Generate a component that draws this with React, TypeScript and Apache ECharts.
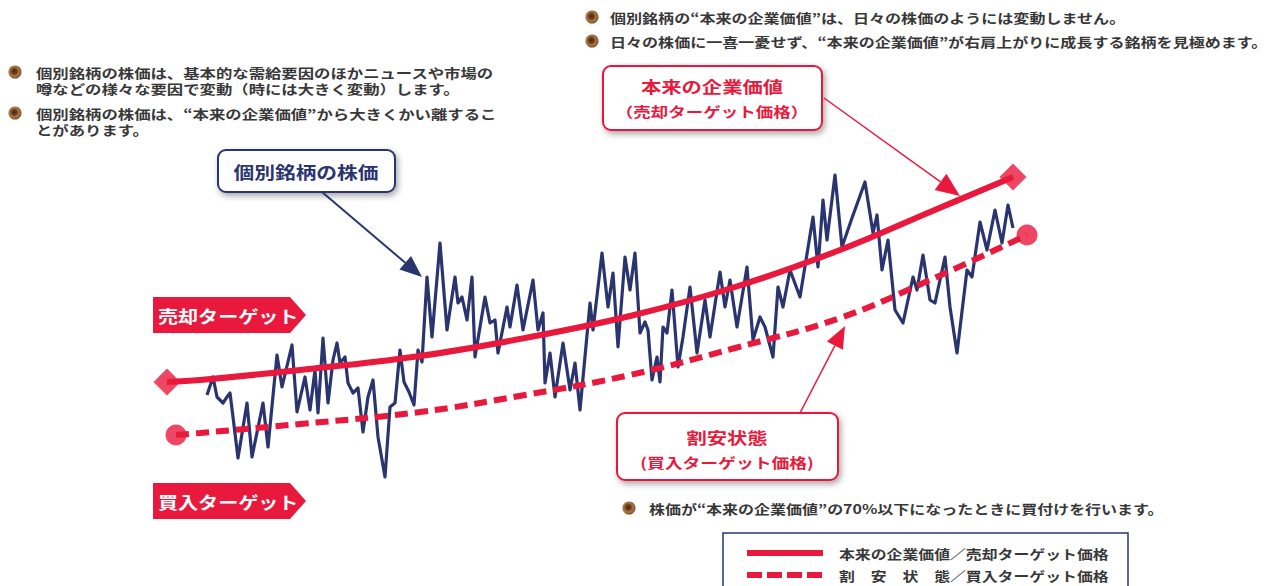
import React, { useEffect, useRef } from "react";
import * as echarts from "echarts";

// ---- data (days, price units) ----
const stockDays = [57, 63, 67, 73, 77, 80, 83, 88, 97, 102, 113, 118, 127, 132, 142, 147, 155, 160, 165, 168, 173, 178, 183, 187, 190, 195, 198, 203, 208, 213, 218, 223, 228, 235, 240, 245, 250, 254, 259, 264, 268, 272, 277, 282, 290, 297, 305, 308, 312, 317, 322, 325, 335, 340, 345, 348, 357, 360, 367, 373, 383, 388, 393, 395, 400, 405, 413, 420, 425, 430, 440, 443, 452, 458, 463, 468, 475, 480, 485, 490, 495, 498, 502, 507, 510, 513, 517, 522, 528, 533, 540, 547, 555, 560, 570, 575, 580, 587, 597, 603, 610, 615, 623, 628, 633, 640, 650, 663, 668, 673, 677, 685, 692, 702, 715, 723, 727, 732, 738, 745, 753, 763, 767, 773, 780, 785, 795, 800, 807, 817, 822, 830, 837, 845, 852, 858, 863];
const stockPrices = [85, 103, 83, 77, 83, 87, 63, 22, 77, 23, 77, 33, 125, 93, 135, 68, 103, 70, 110, 67, 142, 77, 120, 137, 117, 123, 97, 87, 92, 48, 83, 100, 43, 3, 73, 77, 130, 98, 88, 75, 130, 118, 203, 143, 237, 150, 203, 177, 183, 160, 203, 123, 183, 157, 160, 127, 173, 153, 195, 150, 200, 150, 167, 97, 127, 83, 137, 90, 117, 70, 177, 150, 227, 173, 207, 133, 223, 190, 227, 147, 158, 150, 100, 123, 98, 153, 147, 190, 113, 143, 193, 127, 180, 143, 208, 173, 200, 153, 213, 140, 163, 153, 123, 193, 173, 210, 183, 263, 213, 280, 240, 305, 233, 262, 298, 247, 265, 210, 240, 170, 157, 203, 190, 225, 180, 177, 223, 173, 127, 210, 203, 258, 230, 270, 237, 275, 252];

const valueDays = [17, 50, 150, 270, 375, 480, 585, 690, 780, 863];
const valuePrices = [98, 100, 110, 124, 142, 164, 193, 230, 268, 303];

const buyDays = [26, 50, 150, 270, 375, 480, 585, 690, 780, 877];
const buyPrices = [45, 47, 56, 68, 85, 105, 132, 162, 200, 245];

const topLeftNotes = [
  ["個別銘柄の株価は、基本的な需給要因のほかニュースや市場の", "噂などの様々な要因で変動（時には大きく変動）します。"],
  ["個別銘柄の株価は、“本来の企業価値”から大きくかい離するこ", "とがあります。"],
];
const topRightNotes = [
  "個別銘柄の“本来の企業価値”は、日々の株価のようには変動しません。",
  "日々の株価に一喜一憂せず、“本来の企業価値”が右肩上がりに成長する銘柄を見極めます。",
];
const bottomNote = "株価が“本来の企業価値”の70%以下になったときに買付けを行います。";
const legendItems = ["本来の企業価値／売却ターゲット価格", "割　安　状　態／買入ターゲット価格"];

const RED = "#e8193c";
const NAVY = "#2a3570";
const TEXT = "#383838";
const FONT = '"Noto Sans CJK JP", "Noto Sans", sans-serif';

function txt(x: number, y: number, text: string, o: any = {}) {
  const align = o.align || "left";
  return {
    type: "text",
    x,
    y,
    scaleX: o.sx ?? 1.25,
    z: 20,
    style: {
      text,
      fill: o.fill || TEXT,
      fontSize: o.size || 13,
      fontFamily: FONT,
      fontWeight: o.weight || "bold",
      align,
      textAlign: align,
      verticalAlign: "middle",
      textVerticalAlign: "middle",
    },
  };
}

function bullet(x: number, y: number) {
  return {
    type: "circle",
    shape: { cx: x, cy: y, r: 6.5 },
    z: 20,
    style: {
      fill: new echarts.graphic.RadialGradient(0.45, 0.45, 0.6, [
        { offset: 0, color: "#4a2a10" },
        { offset: 0.35, color: "#6b4020" },
        { offset: 0.6, color: "#b07a45" },
        { offset: 1, color: "#6a3c16" },
      ]),
    },
  };
}

function arrow(x1: number, y1: number, tx: number, ty: number, color: string, lw: number, hl: number, hw: number) {
  const dx = tx - x1;
  const dy = ty - y1;
  const len = Math.sqrt(dx * dx + dy * dy);
  const ux = dx / len;
  const uy = dy / len;
  const bx = tx - hl * ux;
  const by = ty - hl * uy;
  const px = -uy;
  const py = ux;
  return [
    { type: "line", z: 15, shape: { x1, y1, x2: bx, y2: by }, style: { stroke: color, lineWidth: lw } },
    {
      type: "polygon",
      z: 15,
      shape: { points: [[tx, ty], [bx + hw * px, by + hw * py], [bx - hw * px, by - hw * py]] },
      style: { fill: color },
    },
  ];
}

function box(x: number, y: number, w: number, h: number, color: string) {
  return {
    type: "rect",
    z: 14,
    shape: { x, y, width: w, height: h, r: 8 },
    style: {
      fill: "#fff",
      stroke: color,
      lineWidth: 2,
      shadowBlur: 6,
      shadowOffsetX: 2,
      shadowOffsetY: 3,
      shadowColor: "rgba(0,0,0,0.35)",
    },
  };
}

function tag(x: number, y: number, label: string) {
  return [
    {
      type: "polygon",
      z: 14,
      shape: { points: [[x, y], [x + 137, y], [x + 153, y + 18], [x + 137, y + 36], [x, y + 36]] },
      style: { fill: RED },
    },
    txt(x + 5, y + 18, label, { fill: "#fff", size: 17, weight: "bold", sx: 1.18 }),
  ];
}

export default function App() {
  const ref = useRef<HTMLDivElement>(null);

  useEffect(() => {
    if (!ref.current) return;
    const chart = echarts.init(ref.current, undefined, { renderer: "svg" });

    const stockData = stockDays.map((d, i) => [d, stockPrices[i]]);
    const valueData = valueDays.map((d, i) => [d, valuePrices[i]]);
    const buyData = buyDays.map((d, i) => [d, buyPrices[i]]);

    const graphics: any[] = [];
    // top-left notes
    topLeftNotes.forEach((lines, i) => {
      const y0 = i === 0 ? 72 : 113;
      graphics.push(bullet(15, y0));
      lines.forEach((l, j) => graphics.push(txt(36, y0 + j * 16, l, { sx: 1.26 })));
    });
    // top-right notes
    topRightNotes.forEach((l, i) => {
      graphics.push(bullet(592, 17 + i * 24));
      graphics.push(txt(610, 17 + i * 24, l, { sx: 1.235 }));
    });
    // bottom note
    graphics.push(bullet(629, 508));
    graphics.push(txt(649, 508, bottomNote, { sx: 1.23 }));

    // callout: stock price
    graphics.push(box(218, 150, 177, 42, NAVY));
    graphics.push(txt(306, 171, "個別銘柄の株価", { fill: NAVY, size: 17, weight: "bold", sx: 1.22, align: "center" }));
    graphics.push(...arrow(322, 192, 422, 277, NAVY, 2, 22, 9));

    // callout: intrinsic value
    graphics.push(box(603, 66, 219, 64, RED));
    graphics.push(txt(712, 86, "本来の企業価値", { fill: RED, size: 16, weight: "bold", sx: 1.27, align: "center" }));
    graphics.push(txt(712, 111, "（売却ターゲット価格）", { fill: RED, size: 14, weight: "bold", sx: 1.25, align: "center" }));
    graphics.push(...arrow(824, 98, 960, 196, RED, 1.5, 24, 10));

    // callout: undervalued
    graphics.push(box(617, 413, 221, 67, RED));
    graphics.push(txt(727, 437, "割安状態", { fill: RED, size: 16, weight: "bold", sx: 1.27, align: "center" }));
    graphics.push(txt(727, 462, "(買入ターゲット価格)", { fill: RED, size: 14, weight: "bold", sx: 1.27, align: "center" }));
    graphics.push(...arrow(800, 413, 845, 326, RED, 1.5, 22, 9));

    // tags
    graphics.push(...tag(153, 297, "売却ターゲット"));
    graphics.push(...tag(153, 483, "買入ターゲット"));

    // legend box
    graphics.push({
      type: "rect",
      z: 14,
      shape: { x: 723, y: 533, width: 405, height: 70 },
      style: { fill: "#fff", stroke: NAVY, lineWidth: 1.5 },
    });
    graphics.push({ type: "line", z: 15, shape: { x1: 747, y1: 553, x2: 823, y2: 553 }, style: { stroke: RED, lineWidth: 6 } });
    graphics.push({
      type: "line",
      z: 15,
      shape: { x1: 747, y1: 575, x2: 823, y2: 575 },
      style: { stroke: RED, lineWidth: 6, lineDash: [15, 5] },
    });
    graphics.push(txt(839, 553, legendItems[0], { size: 13, sx: 1.22 }));
    graphics.push(txt(839, 575, legendItems[1], { size: 13, sx: 1.22 }));

    chart.setOption({
      animation: false,
      backgroundColor: "#fff",
      grid: { left: 150, top: 150, width: 900, height: 330 },
      xAxis: { type: "value", min: 0, max: 900, show: false },
      yAxis: { type: "value", min: 0, max: 330, show: false },
      series: [
        {
          type: "line",
          data: stockData,
          symbol: "none",
          z: 2,
          lineStyle: { color: NAVY, width: 3.2, join: "round" },
        },
        {
          type: "line",
          data: buyData,
          symbol: "none",
          smooth: 0.4,
          z: 3,
          lineStyle: { color: RED, width: 6, type: [13, 7] },
        },
        {
          type: "line",
          data: valueData,
          symbol: "none",
          smooth: 0.4,
          z: 3,
          lineStyle: { color: RED, width: 6 },
        },
        {
          type: "scatter",
          data: [valueData[0], valueData[valueData.length - 1]],
          symbol: "diamond",
          symbolSize: [27, 27],
          z: 4,
          itemStyle: { color: RED },
        },
        {
          type: "scatter",
          data: [buyData[0], buyData[buyData.length - 1]],
          symbol: "circle",
          symbolSize: 21,
          z: 4,
          itemStyle: { color: RED },
        },
      ],
      graphic: { elements: graphics },
    });

    return () => chart.dispose();
  }, []);

  return (
    <div
      ref={ref}
      style={{ position: "absolute", left: 0, top: 0, width: 1271, height: 586, background: "#fff" }}
    />
  );
}
